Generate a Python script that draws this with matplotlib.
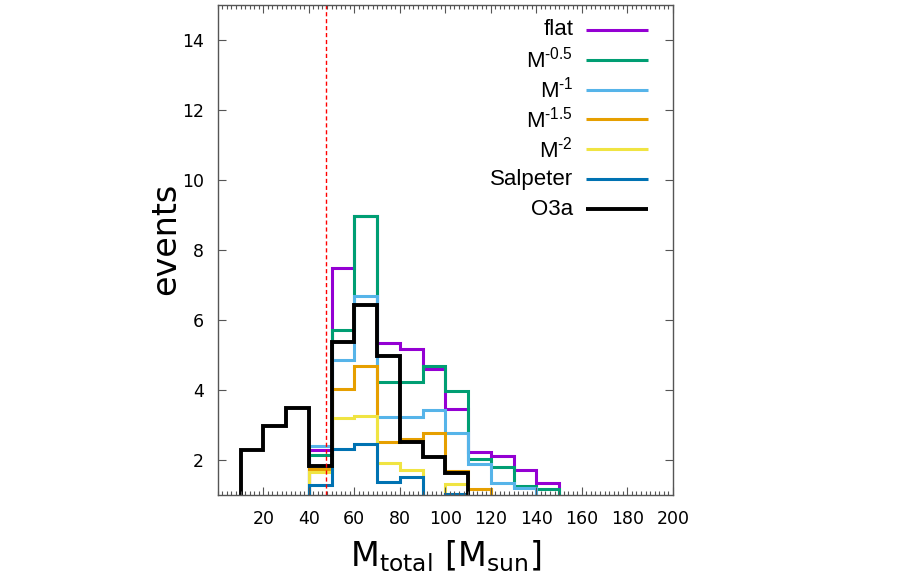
import numpy as np
import matplotlib
matplotlib.use("Agg")
import matplotlib.pyplot as plt
from matplotlib.ticker import MultipleLocator

plt.rcParams["mathtext.fontset"] = "custom"
plt.rcParams["mathtext.rm"] = "Liberation Sans"
plt.rcParams["mathtext.sf"] = "DejaVu Sans"

# bin edges (M_total, 10 Msun bins)
edges = np.arange(0, 160, 10)

# events per bin, bins 0-10 ... 140-150
flat = [0, 0, 0, 0, 2.28, 7.49, 8.98, 5.35, 5.16, 4.59, 3.46, 2.22, 2.12, 1.71, 1.33]
m05 = [0, 0, 0, 0, 2.15, 5.71, 8.98, 4.24, 4.24, 4.69, 3.98, 2.02, 1.81, 1.26, 1.17]
m1 = [0, 0, 0, 0, 2.40, 4.86, 6.68, 3.22, 3.22, 3.43, 2.76, 1.90, 1.35, 1.19, 0]
m15 = [0, 0, 0, 0, 1.74, 4.02, 4.69, 2.51, 2.60, 2.78, 1.68, 1.17, 0, 0, 0]
m2 = [0, 0, 0, 0, 1.67, 3.19, 3.26, 1.92, 1.71, 0, 1.31, 0, 0, 0, 0]
salpeter = [0, 0, 0, 0, 1.30, 2.31, 2.45, 1.37, 1.52, 0, 1.04, 0, 0, 0, 0]
o3a = [0, 2.28, 2.98, 3.49, 1.82, 5.37, 6.44, 4.96, 2.52, 2.09, 1.64, 0, 0, 0, 0]

labels = ["flat", r"M$^{\text{-0.5}}$", r"M$^{\text{-1}}$",
          r"M$^{\text{-1.5}}$", r"M$^{\text{-2}}$", "Salpeter", "O3a"]
colors = ["#9400d3", "#009e73", "#56b4e9", "#e69f00", "#f0e442", "#0072b2", "black"]
m_cut = 47.6

series = [flat, m05, m1, m15, m2, salpeter, o3a]

fig = plt.figure(figsize=(9, 5.85), dpi=100)
ax = fig.add_axes([0.242, 0.1538, 0.5056, 0.8376])

for vals, col in zip(series, colors):
    lw = 2.8 if col == "black" else 2.2
    ax.stairs(vals, edges, baseline=0, color=col, lw=lw)

ax.axvline(m_cut, color="red", lw=1, ls=(0, (3, 2)))

ax.set_xlim(0, 200)
ax.set_ylim(1, 15)
ax.set_xticks(np.arange(20, 220, 20))
ax.set_yticks(np.arange(2, 16, 2))
ax.xaxis.set_minor_locator(MultipleLocator(2))
ax.tick_params(axis="both", which="both", direction="in", top=True, right=True,
               colors="#555555", labelcolor="black", labelsize=12.5)
ax.tick_params(which="major", length=6, width=0.8)
ax.tick_params(which="minor", length=3, width=0.8)
ax.tick_params(axis="x", pad=11)
ax.tick_params(axis="y", pad=10)
for sp in ax.spines.values():
    sp.set_color("#555555")
    sp.set_linewidth(1)

ax.set_ylabel("events", fontsize=24)
ax.yaxis.set_label_coords(-0.079, 0.522)
ax.set_xlabel(r"$\mathsf{M_{total}\ [M_{sun}]}$", fontsize=24, labelpad=7)

# gnuplot-style key: right-aligned labels, line sample on the right
for i, (lab, col) in enumerate(zip(labels, colors)):
    y = 0.9495 - i * 0.061
    ax.text(0.781, y, lab, transform=ax.transAxes, ha="right", va="center",
            fontsize=16, family="Liberation Sans")
    ax.plot([0.810, 0.946], [y, y], transform=ax.transAxes, color=col,
            lw=2.8 if col == "black" else 2.2, solid_capstyle="butt")

fig.savefig("out.png", dpi=100)
